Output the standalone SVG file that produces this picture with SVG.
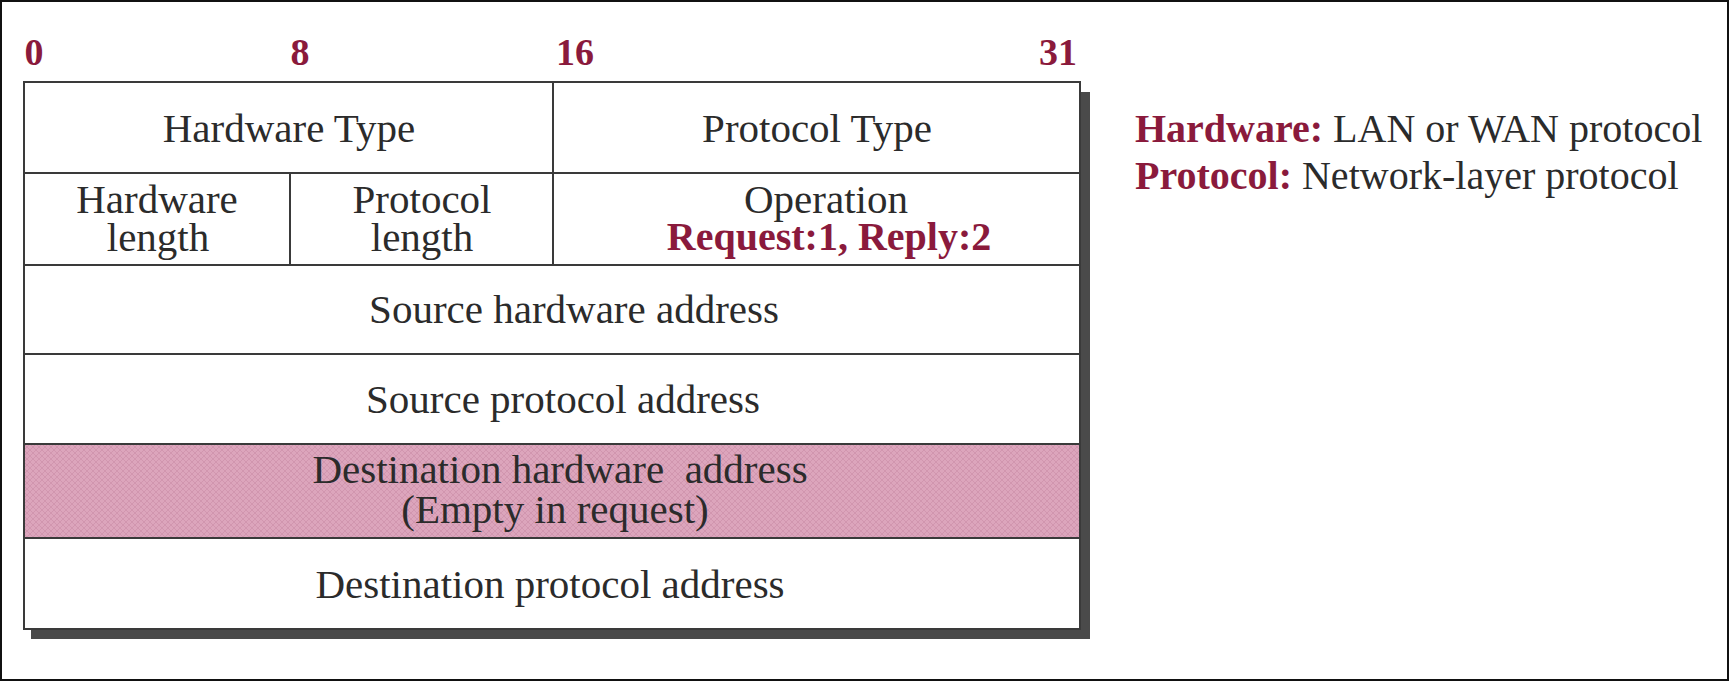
<svg xmlns="http://www.w3.org/2000/svg" width="1729" height="681" viewBox="0 0 1729 681">
  <defs>
    <style>
      .t { font-family: "Liberation Serif", "Times New Roman", serif; font-size: 41px; fill: #2b2b2b; text-anchor: middle; }
      .b { font-family: "Liberation Serif", "Times New Roman", serif; font-weight: bold; fill: #8a1a3c; }
      .num { font-size: 38px; text-anchor: middle; }
      .leg { font-family: "Liberation Serif", "Times New Roman", serif; font-size: 40px; fill: #2b2b2b; }
      .cell { fill: #ffffff; stroke: #3a3a3a; stroke-width: 2; }
    </style>
    <pattern id="hatch" width="6" height="6" patternUnits="userSpaceOnUse">
      <rect width="6" height="6" fill="#dca5bc"/>
      <path d="M0,0 L6,6 M6,0 L0,6" stroke="#c98ba7" stroke-width="1" opacity="0.6"/>
    </pattern>
  </defs>

  <rect x="0" y="0" width="1729" height="681" fill="#ffffff"/>
  <rect x="1" y="1" width="1727" height="679" fill="none" stroke="#111111" stroke-width="2"/>

  <g id="bit-labels">
    <text class="b num" x="34" y="65">0</text>
    <text class="b num" x="300" y="65">8</text>
    <text class="b num" x="575" y="65">16</text>
    <text class="b num" x="1058" y="65">31</text>
  </g>

  <g id="shadow">
    <rect x="1080" y="92" width="10" height="547" fill="#4a4a4a"/>
    <rect x="31" y="629" width="1059" height="10" fill="#4a4a4a"/>
  </g>

  <g id="hardware-type">
    <rect class="cell" x="24" y="82" width="529" height="91"/>
    <text class="t" x="289" y="142">Hardware Type</text>
  </g>
  <g id="protocol-type">
    <rect class="cell" x="553" y="82" width="527" height="91"/>
    <text class="t" x="817" y="142">Protocol Type</text>
  </g>
  <g id="hardware-length">
    <rect class="cell" x="24" y="173" width="266" height="92"/>
    <text class="t" x="157" y="213">Hardware</text>
    <text class="t" x="158" y="251">length</text>
  </g>
  <g id="protocol-length">
    <rect class="cell" x="290" y="173" width="263" height="92"/>
    <text class="t" x="422" y="213">Protocol</text>
    <text class="t" x="422" y="251">length</text>
  </g>
  <g id="operation">
    <rect class="cell" x="553" y="173" width="527" height="92"/>
    <text class="t" x="826" y="213">Operation</text>
    <text class="b" x="829" y="250" font-size="40" text-anchor="middle">Request:1, Reply:2</text>
  </g>
  <g id="source-hardware-address">
    <rect class="cell" x="24" y="265" width="1056" height="89"/>
    <text class="t" x="574" y="323">Source hardware address</text>
  </g>
  <g id="source-protocol-address">
    <rect class="cell" x="24" y="354" width="1056" height="90"/>
    <text class="t" x="563" y="413">Source protocol address</text>
  </g>
  <g id="destination-hardware-address">
    <rect class="cell" x="24" y="444" width="1056" height="94" style="fill:url(#hatch)"/>
    <text class="t" x="560" y="483" xml:space="preserve">Destination hardware  address</text>
    <text class="t" x="555" y="523">(Empty in request)</text>
  </g>
  <g id="destination-protocol-address">
    <rect class="cell" x="24" y="538" width="1056" height="91"/>
    <text class="t" x="550" y="598">Destination protocol address</text>
  </g>

  <g id="legend">
    <text class="leg" x="1135" y="142"><tspan class="b">Hardware:</tspan> LAN or WAN protocol</text>
    <text class="leg" x="1135" y="189"><tspan class="b">Protocol:</tspan> Network-layer protocol</text>
  </g>
</svg>
